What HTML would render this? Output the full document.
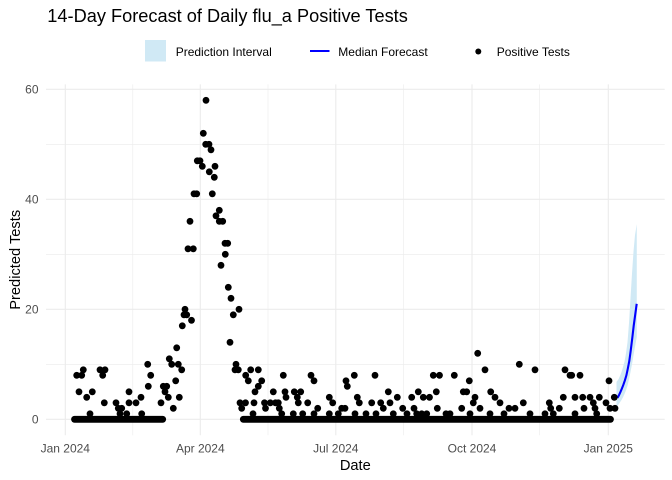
<!DOCTYPE html>
<html><head><meta charset="utf-8"><style>
html,body{margin:0;padding:0;background:#fff}
svg{display:block}
text{font-family:"Liberation Sans",Arial,sans-serif}
</style></head><body>
<svg width="672" height="480" viewBox="0 0 672 480" xmlns="http://www.w3.org/2000/svg">
<rect width="672" height="480" fill="#fff"/>
<g stroke="#EBEBEB" stroke-width="0.6">
<line x1="46" x2="664.7" y1="364.3" y2="364.3"/>
<line x1="46" x2="664.7" y1="254.3" y2="254.3"/>
<line x1="46" x2="664.7" y1="144.3" y2="144.3"/>
<line y1="84.4" y2="435.3" x1="132.8" x2="132.8"/>
<line y1="84.4" y2="435.3" x1="268" x2="268"/>
<line y1="84.4" y2="435.3" x1="403.6" x2="403.6"/>
<line y1="84.4" y2="435.3" x1="539.3" x2="539.3"/>
</g>
<g stroke="#EBEBEB" stroke-width="1.1">
<line x1="46" x2="664.7" y1="419.3" y2="419.3"/>
<line x1="46" x2="664.7" y1="309.3" y2="309.3"/>
<line x1="46" x2="664.7" y1="199.3" y2="199.3"/>
<line x1="46" x2="664.7" y1="89.3" y2="89.3"/>
<line y1="84.4" y2="435.3" x1="65.3" x2="65.3"/>
<line y1="84.4" y2="435.3" x1="200.3" x2="200.3"/>
<line y1="84.4" y2="435.3" x1="335.8" x2="335.8"/>
<line y1="84.4" y2="435.3" x1="472" x2="472"/>
<line y1="84.4" y2="435.3" x1="608.3" x2="608.3"/>
</g>
<polygon fill="#D0E9F5" points="616.5,381.9 618.5,379.2 620,375.9 621.5,372 623,367.1 624.5,361.6 626,353.3 627.5,342.3 629,323 630.5,298.3 632,273.6 633.5,251.6 635,235.1 636.8,224.1 636.8,336.8 635,346.7 633.5,355.5 632,364.3 630.5,372 629,379.2 627.5,385.8 626,390.2 624.5,394 623,397.3 621.5,400 620,402.3 618.5,404.5 616.5,406.7"/>
<polyline fill="none" stroke="#0000FF" stroke-width="2.1" points="617.5,397.9 619,395.1 620.5,391.8 621.9,388.5 623.4,384.7 624.9,380.3 626.4,375.3 627.8,368.7 629.3,361 630.8,350 632.3,337.9 633.7,325.8 635.2,314.8 636.7,303.8"/>
<g stroke="#000" stroke-width="6.8" stroke-linecap="round">
<line x1="74.5" x2="162.7" y1="419.3" y2="419.3"/>
<line x1="243.3" x2="610.5" y1="419.3" y2="419.3"/>
</g>
<g fill="#000">
<g transform="translate(0,413.8)">
<circle cx="90" cy="0" r="3.4"/><circle cx="120" cy="0" r="3.4"/><circle cx="126.7" cy="0" r="3.4"/><circle cx="141.7" cy="0" r="3.4"/><circle cx="281.7" cy="0" r="3.4"/><circle cx="293.3" cy="0" r="3.4"/><circle cx="302.7" cy="0" r="3.4"/><circle cx="329.3" cy="0" r="3.4"/><circle cx="338.3" cy="0" r="3.4"/><circle cx="366" cy="0" r="3.4"/><circle cx="393.3" cy="0" r="3.4"/><circle cx="416.7" cy="0" r="3.4"/><circle cx="421.7" cy="0" r="3.4"/><circle cx="426.7" cy="0" r="3.4"/><circle cx="446" cy="0" r="3.4"/><circle cx="450" cy="0" r="3.4"/><circle cx="470" cy="0" r="3.4"/><circle cx="504" cy="0" r="3.4"/><circle cx="530" cy="0" r="3.4"/><circle cx="553.3" cy="0" r="3.4"/><circle cx="596.7" cy="0" r="3.4"/><circle cx="253" cy="0" r="3.4"/><circle cx="314" cy="0" r="3.4"/><circle cx="355" cy="0" r="3.4"/><circle cx="376" cy="0" r="3.4"/><circle cx="407" cy="0" r="3.4"/><circle cx="490" cy="0" r="3.4"/><circle cx="545" cy="0" r="3.4"/><circle cx="575" cy="0" r="3.4"/>
</g>
<g transform="translate(0,408.3)">
<circle cx="118.3" cy="0" r="3.4"/><circle cx="121.7" cy="0" r="3.4"/><circle cx="173.3" cy="0" r="3.4"/><circle cx="241.7" cy="0" r="3.4"/><circle cx="265.5" cy="0" r="3.4"/><circle cx="279.3" cy="0" r="3.4"/><circle cx="317.7" cy="0" r="3.4"/><circle cx="341.7" cy="0" r="3.4"/><circle cx="345" cy="0" r="3.4"/><circle cx="383.3" cy="0" r="3.4"/><circle cx="402.7" cy="0" r="3.4"/><circle cx="414" cy="0" r="3.4"/><circle cx="437.3" cy="0" r="3.4"/><circle cx="461.7" cy="0" r="3.4"/><circle cx="480" cy="0" r="3.4"/><circle cx="509" cy="0" r="3.4"/><circle cx="515" cy="0" r="3.4"/><circle cx="550.7" cy="0" r="3.4"/><circle cx="559.3" cy="0" r="3.4"/><circle cx="584" cy="0" r="3.4"/><circle cx="595" cy="0" r="3.4"/><circle cx="610" cy="0" r="3.4"/><circle cx="615" cy="0" r="3.4"/>
</g>
<g transform="translate(0,402.8)">
<circle cx="104.3" cy="0" r="3.4"/><circle cx="116" cy="0" r="3.4"/><circle cx="129" cy="0" r="3.4"/><circle cx="136" cy="0" r="3.4"/><circle cx="161" cy="0" r="3.4"/><circle cx="240" cy="0" r="3.4"/><circle cx="245.5" cy="0" r="3.4"/><circle cx="254" cy="0" r="3.4"/><circle cx="264.5" cy="0" r="3.4"/><circle cx="270.3" cy="0" r="3.4"/><circle cx="275.5" cy="0" r="3.4"/><circle cx="278.3" cy="0" r="3.4"/><circle cx="298.3" cy="0" r="3.4"/><circle cx="307.7" cy="0" r="3.4"/><circle cx="332.7" cy="0" r="3.4"/><circle cx="359.3" cy="0" r="3.4"/><circle cx="371.7" cy="0" r="3.4"/><circle cx="380.7" cy="0" r="3.4"/><circle cx="390" cy="0" r="3.4"/><circle cx="473.3" cy="0" r="3.4"/><circle cx="500" cy="0" r="3.4"/><circle cx="523.3" cy="0" r="3.4"/><circle cx="549.3" cy="0" r="3.4"/><circle cx="593.3" cy="0" r="3.4"/><circle cx="606" cy="0" r="3.4"/>
</g>
<g transform="translate(0,397.3)">
<circle cx="86.7" cy="0" r="3.4"/><circle cx="141" cy="0" r="3.4"/><circle cx="168.3" cy="0" r="3.4"/><circle cx="179.3" cy="0" r="3.4"/><circle cx="286" cy="0" r="3.4"/><circle cx="297.3" cy="0" r="3.4"/><circle cx="329.3" cy="0" r="3.4"/><circle cx="357.3" cy="0" r="3.4"/><circle cx="397.3" cy="0" r="3.4"/><circle cx="411.7" cy="0" r="3.4"/><circle cx="423.3" cy="0" r="3.4"/><circle cx="429.5" cy="0" r="3.4"/><circle cx="475" cy="0" r="3.4"/><circle cx="495" cy="0" r="3.4"/><circle cx="563.3" cy="0" r="3.4"/><circle cx="575" cy="0" r="3.4"/><circle cx="582.7" cy="0" r="3.4"/><circle cx="590" cy="0" r="3.4"/><circle cx="599.3" cy="0" r="3.4"/><circle cx="614.3" cy="0" r="3.4"/>
</g>
<g transform="translate(0,391.8)">
<circle cx="79" cy="0" r="3.4"/><circle cx="92.3" cy="0" r="3.4"/><circle cx="129" cy="0" r="3.4"/><circle cx="165" cy="0" r="3.4"/><circle cx="255" cy="0" r="3.4"/><circle cx="273.3" cy="0" r="3.4"/><circle cx="285" cy="0" r="3.4"/><circle cx="294.3" cy="0" r="3.4"/><circle cx="300.7" cy="0" r="3.4"/><circle cx="388.3" cy="0" r="3.4"/><circle cx="418.3" cy="0" r="3.4"/><circle cx="436.3" cy="0" r="3.4"/><circle cx="463.3" cy="0" r="3.4"/><circle cx="466.7" cy="0" r="3.4"/><circle cx="490.7" cy="0" r="3.4"/>
</g>
<g transform="translate(0,386.3)">
<circle cx="148.3" cy="0" r="3.4"/><circle cx="163.3" cy="0" r="3.4"/><circle cx="166.7" cy="0" r="3.4"/><circle cx="258.3" cy="0" r="3.4"/><circle cx="347.3" cy="0" r="3.4"/>
</g>
<g transform="translate(0,380.8)">
<circle cx="175.7" cy="0" r="3.4"/><circle cx="248.3" cy="0" r="3.4"/><circle cx="261.7" cy="0" r="3.4"/><circle cx="314" cy="0" r="3.4"/><circle cx="346" cy="0" r="3.4"/><circle cx="469.3" cy="0" r="3.4"/><circle cx="609" cy="0" r="3.4"/>
</g>
<g transform="translate(0,375.3)">
<circle cx="76.7" cy="0" r="3.4"/><circle cx="81.7" cy="0" r="3.4"/><circle cx="102.7" cy="0" r="3.4"/><circle cx="150.7" cy="0" r="3.4"/><circle cx="245.7" cy="0" r="3.4"/><circle cx="283.3" cy="0" r="3.4"/><circle cx="311" cy="0" r="3.4"/><circle cx="354.3" cy="0" r="3.4"/><circle cx="375" cy="0" r="3.4"/><circle cx="433.3" cy="0" r="3.4"/><circle cx="439.5" cy="0" r="3.4"/><circle cx="454.3" cy="0" r="3.4"/><circle cx="570" cy="0" r="3.4"/><circle cx="571.7" cy="0" r="3.4"/><circle cx="580" cy="0" r="3.4"/>
</g>
<g transform="translate(0,369.8)">
<circle cx="83.3" cy="0" r="3.4"/><circle cx="100" cy="0" r="3.4"/><circle cx="105" cy="0" r="3.4"/><circle cx="181.7" cy="0" r="3.4"/><circle cx="235" cy="0" r="3.4"/><circle cx="238.3" cy="0" r="3.4"/><circle cx="250.7" cy="0" r="3.4"/><circle cx="258.3" cy="0" r="3.4"/><circle cx="485" cy="0" r="3.4"/><circle cx="535" cy="0" r="3.4"/><circle cx="565" cy="0" r="3.4"/>
</g>
<g transform="translate(0,364.3)">
<circle cx="147.7" cy="0" r="3.4"/><circle cx="171.7" cy="0" r="3.4"/><circle cx="178.3" cy="0" r="3.4"/><circle cx="236" cy="0" r="3.4"/><circle cx="519.3" cy="0" r="3.4"/>
</g>
<circle cx="169.3" cy="358.8" r="3.4"/>
<circle cx="477.7" cy="353.3" r="3.4"/>
<circle cx="176.7" cy="347.8" r="3.4"/>
<circle cx="230" cy="342.3" r="3.4"/>
<circle cx="182.3" cy="325.8" r="3.4"/>
<circle cx="191.5" cy="320.3" r="3.4"/>
<circle cx="184" cy="314.8" r="3.4"/><circle cx="186.7" cy="314.8" r="3.4"/><circle cx="233.3" cy="314.8" r="3.4"/>
<circle cx="185" cy="309.3" r="3.4"/><circle cx="239" cy="309.3" r="3.4"/>
<circle cx="231" cy="298.3" r="3.4"/>
<circle cx="228.3" cy="287.3" r="3.4"/>
<circle cx="221" cy="265.3" r="3.4"/>
<circle cx="225.3" cy="254.3" r="3.4"/>
<circle cx="188" cy="248.8" r="3.4"/><circle cx="193.3" cy="248.8" r="3.4"/>
<circle cx="225" cy="243.3" r="3.4"/><circle cx="227.7" cy="243.3" r="3.4"/>
<circle cx="190" cy="221.3" r="3.4"/><circle cx="219.3" cy="221.3" r="3.4"/><circle cx="222.7" cy="221.3" r="3.4"/>
<circle cx="216" cy="215.8" r="3.4"/>
<circle cx="219.3" cy="210.3" r="3.4"/>
<circle cx="194" cy="193.8" r="3.4"/><circle cx="196.7" cy="193.8" r="3.4"/><circle cx="212.3" cy="193.8" r="3.4"/>
<circle cx="214.3" cy="177.3" r="3.4"/>
<circle cx="209.3" cy="171.8" r="3.4"/>
<circle cx="202.3" cy="166.3" r="3.4"/><circle cx="215" cy="166.3" r="3.4"/>
<circle cx="197.3" cy="160.8" r="3.4"/><circle cx="200" cy="160.8" r="3.4"/>
<circle cx="211" cy="149.8" r="3.4"/>
<circle cx="205.7" cy="144.3" r="3.4"/><circle cx="209" cy="144.3" r="3.4"/>
<circle cx="203.3" cy="133.3" r="3.4"/>
<circle cx="206" cy="100.3" r="3.4"/>
</g>
<g font-size="12" fill="#4D4D4D" text-anchor="end">
<text x="38.5" y="423.6">0</text>
<text x="38.5" y="313.6">20</text>
<text x="38.5" y="203.6">40</text>
<text x="38.5" y="93.6">60</text>
</g>
<g font-size="12" fill="#4D4D4D" text-anchor="middle">
<text x="65.3" y="452.6">Jan 2024</text>
<text x="200.3" y="452.6">Apr 2024</text>
<text x="335.8" y="452.6">Jul 2024</text>
<text x="472" y="452.6">Oct 2024</text>
<text x="608.3" y="452.6">Jan 2025</text>
</g>
<text x="355.3" y="470" font-size="14.67" fill="#000" text-anchor="middle">Date</text>
<text transform="translate(20,259.8) rotate(-90)" font-size="14.67" fill="#000" text-anchor="middle">Predicted Tests</text>
<text x="47.3" y="22" font-size="18.2" fill="#000">14-Day Forecast of Daily flu_a Positive Tests</text>
<rect x="145" y="40" width="21" height="21.5" fill="#D0E9F5"/>
<text x="175.7" y="56" font-size="12" fill="#000">Prediction Interval</text>
<line x1="310" x2="329.5" y1="51" y2="51" stroke="#0000FF" stroke-width="2.1"/>
<text x="338.3" y="56" font-size="12" fill="#000">Median Forecast</text>
<circle cx="478.3" cy="51.5" r="3" fill="#000"/>
<text x="496.7" y="56" font-size="12" fill="#000">Positive Tests</text>
</svg>
</body></html>
